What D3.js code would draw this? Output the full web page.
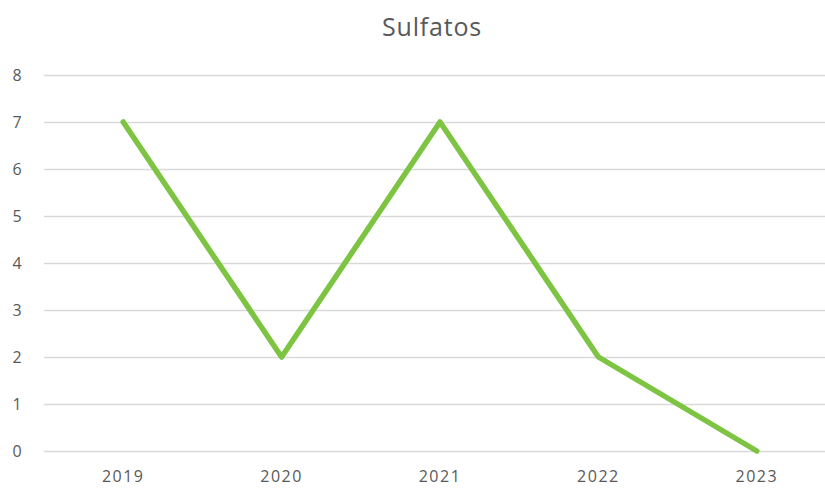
<!DOCTYPE html>
<html><head><meta charset="utf-8">
<script src="https://cdn.jsdelivr.net/npm/d3@7"></script>
<style>body{margin:0;background:#fff}svg{display:block}</style>
</head><body>
<script>
const categories = ["2019","2020","2021","2022","2023"];
const values = [7, 2, 7, 2, 0];
const yTicks = [0,1,2,3,4,5,6,7,8];
const title = "Sulfatos";

(function(){
const W = 825, H = 488;
const svg = d3.select("body").append("svg").attr("width", W).attr("height", H);
const mLeft = 44, mRight = 836, mTop = 75, mBottom = 451;
const x = d3.scaleBand().domain(categories).range([mLeft, mRight]);
const y = d3.scaleLinear().domain([0, 8]).range([mBottom, mTop]);

svg.append("text").attr("x", 432).attr("y", 36).attr("text-anchor","middle")
  .attr("font-family","Open Sans, sans-serif").attr("font-size", 25).attr("letter-spacing", 0.8)
  .attr("fill","#595959").text(title);

const gy = svg.append("g").attr("transform", `translate(${mLeft},0)`)
  .call(d3.axisLeft(y).tickValues(yTicks).tickSize(-(mRight-mLeft)).tickFormat(d3.format("d")));
gy.select(".domain").remove();
gy.selectAll(".tick line").attr("stroke","#d9d9d9").attr("stroke-width",1.3);
gy.selectAll(".tick text").attr("x",-27).attr("text-anchor","middle")
  .attr("font-family","Open Sans, sans-serif").attr("font-size",16).attr("fill","#595959");

const gx = svg.append("g").attr("transform", `translate(0,${mBottom})`)
  .call(d3.axisBottom(x).tickSize(0).tickPadding(20));
gx.select(".domain").remove();
gx.selectAll(".tick text").attr("font-family","Open Sans, sans-serif").attr("font-size",16)
  .attr("letter-spacing", 1.5).attr("fill","#595959");

const line = d3.line().x((d,i)=>x(categories[i]) + x.bandwidth()/2).y(d=>y(d));
svg.append("path").datum(values).attr("d", line).attr("fill","none")
  .attr("stroke","#7dc443").attr("stroke-width",5.5).attr("stroke-linejoin","round").attr("stroke-linecap","round");
})();
</script>
</body></html>
